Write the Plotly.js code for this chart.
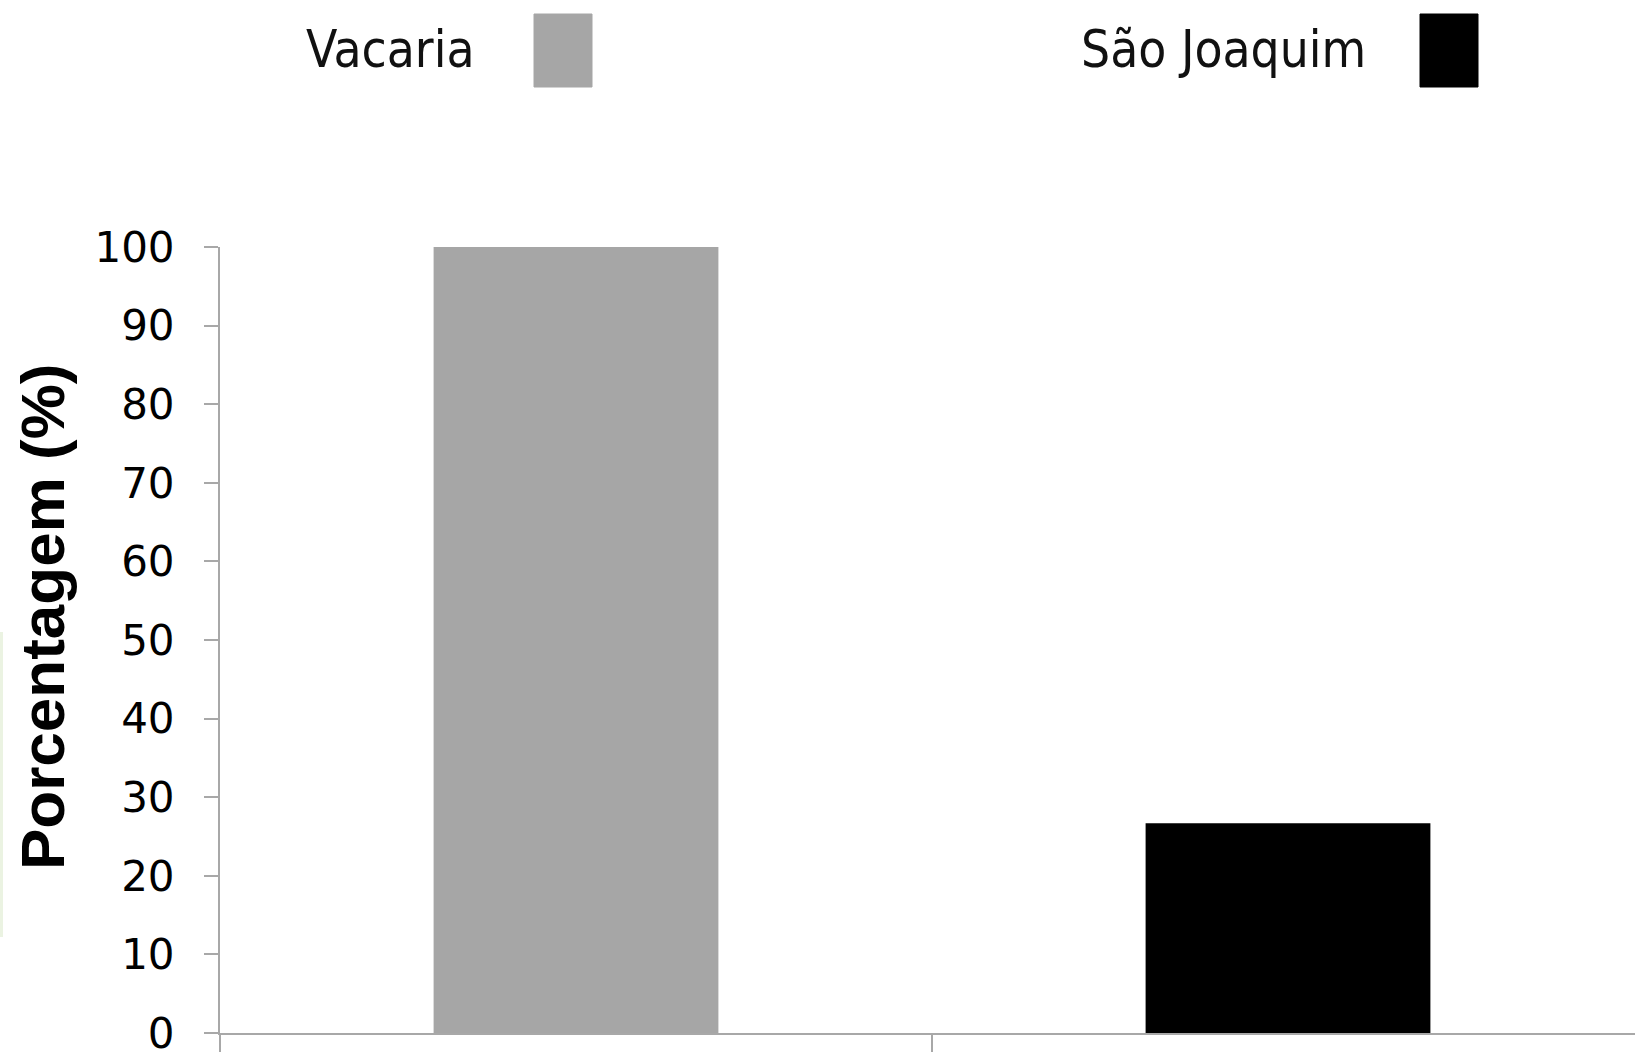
<!DOCTYPE html>
<html>
<head>
<meta charset="utf-8">
<script src="https://cdn.plot.ly/plotly-3.0.1.min.js"></script>
<style>html,body{margin:0;padding:0;background:#fff;}#chart{width:1635px;height:1052px;}</style>
</head>
<body>
<div id="chart"></div>
<script>
// ---- data ----
const categories = ["Vacaria", "São Joaquim"];
const seriesNames = ["Vacaria", "São Joaquim"];
const seriesValues = [100, 26.7];
const seriesColors = ["#a6a6a6", "#000000"];
const yTickValues = [0, 10, 20, 30, 40, 50, 60, 70, 80, 90, 100];
const yTitle = "Porcentagem (%)";

// ---- layout geometry (pixels) ----
const W = 1635, H = 1052;
const M = {l: 220, r: 0, t: 247, b: 19};
const PW = W - M.l - M.r, PH = H - M.t - M.b;
const px = x => (x - M.l) / PW;
const py = y => (H - M.b - y) / PH;

const traces = seriesNames.map((name, i) => ({
  type: 'bar',
  name: name,
  x: [categories[i]],
  y: [seriesValues[i]],
  marker: {color: seriesColors[i], line: {width: 0}},
  showlegend: false,
  hoverinfo: 'x+y'
}));

const legendFont = {family: 'Liberation Sans Narrow, DejaVu Sans Condensed, sans-serif', size: 51, color: '#111'};
const legendTextRight = [477, 1368];
const legendBoxes = [[534, 592], [1420, 1478]];

const annotations = seriesNames.map((name, i) => ({
  xref: 'paper', yref: 'paper',
  x: px(legendTextRight[i]), y: py(50),
  xanchor: 'right', yanchor: 'middle',
  text: name, showarrow: false, font: legendFont
}));
annotations.push({
  xref: 'paper', yref: 'paper',
  x: px(42), y: py(617),
  xanchor: 'center', yanchor: 'middle',
  textangle: -90, showarrow: false,
  text: '<b>' + yTitle + '</b>',
  font: {family: 'Liberation Sans, Arial, sans-serif', size: 62, color: '#000'}
});

const shapes = seriesColors.map((c, i) => ({
  type: 'rect', xref: 'paper', yref: 'paper',
  x0: px(legendBoxes[i][0]), x1: px(legendBoxes[i][1]),
  y0: py(87), y1: py(14),
  fillcolor: c, line: {width: 1, color: c}
}));
shapes.push({
  type: 'rect', xref: 'paper', yref: 'paper',
  x0: px(0), x1: px(3), y0: py(937), y1: py(632),
  fillcolor: '#ebf3e2', line: {width: 0}
});

const layout = {
  width: W, height: H,
  margin: M,
  paper_bgcolor: '#ffffff', plot_bgcolor: '#ffffff',
  barmode: 'overlay',
  bargap: 0.6,
  showlegend: false,
  xaxis: {
    type: 'category',
    categoryorder: 'array', categoryarray: categories,
    range: [-0.5, -0.5 + PW / 712],
    tickson: 'boundaries',
    ticks: 'outside', ticklen: 22, tickwidth: 2, tickcolor: '#a8a8a8',
    showticklabels: false,
    showline: true, linecolor: '#a8a8a8', linewidth: 2,
    showgrid: false, zeroline: false, fixedrange: true
  },
  yaxis: {
    range: [0, 100],
    tickmode: 'array', tickvals: yTickValues, ticktext: yTickValues.map(String),
    ticks: 'outside', ticklen: 14, tickwidth: 2, tickcolor: '#a8a8a8',
    ticklabelstandoff: 21,
    ticklabeloverflow: 'allow',
    tickfont: {family: 'DejaVu Sans, Verdana, sans-serif', size: 42, color: '#000'},
    showline: true, linecolor: '#a8a8a8', linewidth: 2,
    showgrid: false, zeroline: false, fixedrange: true
  },
  annotations: annotations,
  shapes: shapes
};

Plotly.newPlot('chart', traces, layout, {displayModeBar: false, staticPlot: true});
</script>
</body>
</html>
